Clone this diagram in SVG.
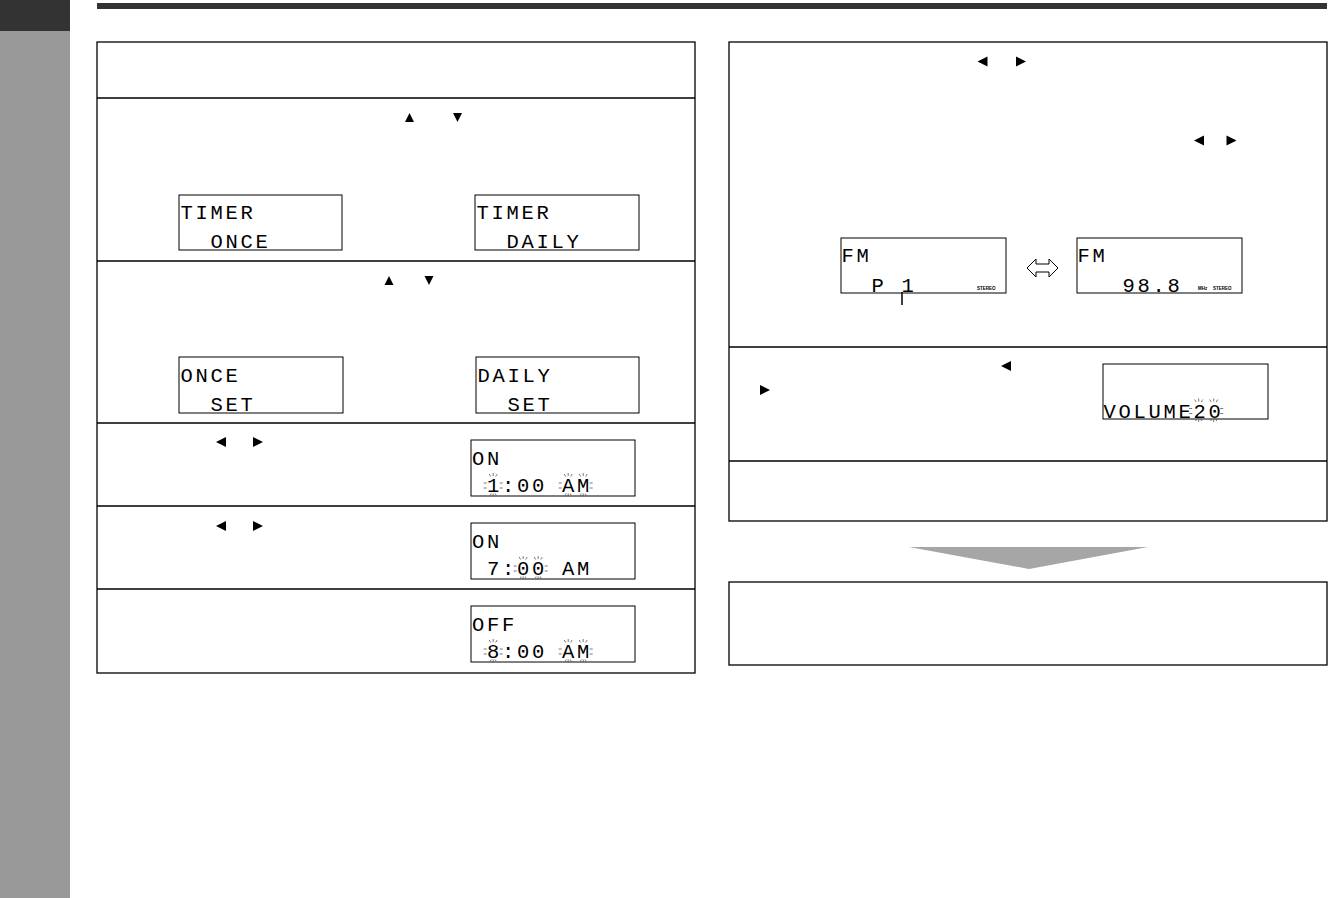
<svg xmlns="http://www.w3.org/2000/svg" xmlns:xlink="http://www.w3.org/1999/xlink" width="1328" height="898" viewBox="0 0 1328 898">
<style>
.frame{fill:none;stroke:#000;stroke-width:1.3}
.div{stroke:#000;stroke-width:1.3}
.lcd{fill:#fff;stroke:#000;stroke-width:1}
.lt{font-family:"Liberation Mono","DejaVu Sans Mono",monospace;font-size:20.5px;letter-spacing:2.7px;fill:#000}
.tri{fill:#000}
.sp{stroke:#555;stroke-width:0.8;fill:none}
.tiny{font-family:"Liberation Sans",Arial,sans-serif;font-size:4.5px;font-weight:bold;fill:#000}
</style>
<defs>
<g id="rays" class="sp">
<path d="M-4,-18 L-2.5,-15.5 M0,-19 L0,-16 M4,-18 L2.5,-15.5 M-3,3.5 L-2,1.5 M0,4.5 L0,1.5 M3,3.5 L2,1.5"/>
</g>
<g id="dl" class="sp"><path d="M-9.5,-9 L-6.5,-9 M-9.5,-4 L-6.5,-4"/></g>
<g id="dr" class="sp"><path d="M6.5,-9 L9.5,-9 M6.5,-4 L9.5,-4"/></g>
<path id="up" d="M-4.5,4.5 L0,-4.5 L4.5,4.5 Z"/>
<path id="down" d="M-4.5,-4.5 L4.5,-4.5 L0,4.5 Z"/>
<path id="left" d="M-5,0 L5,-5 L5,5 Z"/>
<path id="right" d="M5,0 L-5,-5 L-5,5 Z"/>
</defs>
<rect width="1328" height="898" fill="#fff"/>
<g id="sidebar">
<rect x="0" y="0" width="70" height="31" fill="#333"/>
<rect x="0" y="31" width="70" height="867" fill="#999"/>
</g>
<g id="header-bar">
<rect x="97" y="3" width="1230" height="6" fill="#333"/>
</g>
<g id="left-panel">
<rect class="frame" x="97" y="42" width="598" height="631"/>
<line class="div" x1="97" y1="98" x2="695" y2="98"/>
<line class="div" x1="97" y1="261" x2="695" y2="261"/>
<line class="div" x1="97" y1="423" x2="695" y2="423"/>
<line class="div" x1="97" y1="506" x2="695" y2="506"/>
<line class="div" x1="97" y1="589" x2="695" y2="589"/>
</g>
<g id="step-timer-mode">
<use href="#up" class="tri" x="409.5" y="117.5"/>
<use href="#down" class="tri" x="457.5" y="117.5"/>
<g id="lcd-timer-once">
<rect class="lcd" x="179" y="195" width="163" height="55"/>
<text class="lt" x="180.5" y="219">TIMER</text>
<text class="lt" x="180.5" y="248" xml:space="preserve">  ONCE</text>
</g>
<g id="lcd-timer-daily">
<rect class="lcd" x="475" y="195" width="164" height="55"/>
<text class="lt" x="476.5" y="219">TIMER</text>
<text class="lt" x="476.5" y="248" xml:space="preserve">  DAILY</text>
</g>
</g>
<g id="step-set">
<use href="#up" class="tri" x="389" y="280.5"/>
<use href="#down" class="tri" x="429" y="280.5"/>
<g id="lcd-once-set">
<rect class="lcd" x="179" y="357" width="164" height="56"/>
<text class="lt" x="180.5" y="382">ONCE</text>
<text class="lt" x="180.5" y="411" xml:space="preserve">  SET</text>
</g>
<g id="lcd-daily-set">
<rect class="lcd" x="476" y="357" width="163" height="56"/>
<text class="lt" x="477.5" y="382">DAILY</text>
<text class="lt" x="477.5" y="411" xml:space="preserve">  SET</text>
</g>
</g>
<g id="step-on-hour">
<use href="#left" class="tri" x="221" y="442"/>
<use href="#right" class="tri" x="258" y="442"/>
<g id="lcd-on-1">
<rect class="lcd" x="471" y="440" width="164" height="56"/>
<text class="lt" x="472" y="465">ON</text>
<text class="lt" x="472" y="492" xml:space="preserve"> 1:00 AM</text>
<use href="#rays" x="493.2" y="492"/><use href="#dl" x="493.2" y="492"/><use href="#dr" x="493.2" y="492"/>
<use href="#rays" x="568.2" y="492"/><use href="#rays" x="583.2" y="492"/><use href="#dl" x="568.2" y="492"/><use href="#dr" x="583.2" y="492"/>
</g>
</g>
<g id="step-on-minute">
<use href="#left" class="tri" x="221" y="526"/>
<use href="#right" class="tri" x="258" y="526"/>
<g id="lcd-on-7">
<rect class="lcd" x="471" y="523" width="164" height="56"/>
<text class="lt" x="472" y="548">ON</text>
<text class="lt" x="472" y="575" xml:space="preserve"> 7:00 AM</text>
<use href="#rays" x="523.2" y="575"/><use href="#rays" x="538.2" y="575"/><use href="#dl" x="523.2" y="575"/><use href="#dr" x="538.2" y="575"/>
</g>
</g>
<g id="step-off">
<g id="lcd-off-8">
<rect class="lcd" x="471" y="606" width="164" height="56"/>
<text class="lt" x="472" y="631">OFF</text>
<text class="lt" x="472" y="658" xml:space="preserve"> 8:00 AM</text>
<use href="#rays" x="493.2" y="658"/><use href="#dl" x="493.2" y="658"/><use href="#dr" x="493.2" y="658"/>
<use href="#rays" x="568.2" y="658"/><use href="#rays" x="583.2" y="658"/><use href="#dl" x="568.2" y="658"/><use href="#dr" x="583.2" y="658"/>
</g>
</g>
<g id="right-panel">
<rect class="frame" x="729" y="42" width="598" height="479"/>
<line class="div" x1="729" y1="347" x2="1327" y2="347"/>
<line class="div" x1="729" y1="461" x2="1327" y2="461"/>
</g>
<g id="step-source">
<use href="#left" class="tri" x="982.5" y="61.5"/>
<use href="#right" class="tri" x="1021" y="61.5"/>
<use href="#left" class="tri" x="1199" y="140.5"/>
<use href="#right" class="tri" x="1231.5" y="140.5"/>
<g id="lcd-fm-p1">
<rect class="lcd" x="841" y="238" width="165" height="55"/>
<text class="lt" x="841.5" y="262">FM</text>
<text class="lt" x="841.5" y="291.5" xml:space="preserve">  P 1</text>
<text class="tiny" x="977" y="290">STEREO</text>
</g>
<g id="lcd-fm-freq">
<rect class="lcd" x="1077" y="238" width="165" height="55"/>
<text class="lt" x="1077.5" y="262">FM</text>
<text class="lt" x="1077.5" y="291.5" xml:space="preserve">   98.8</text>
<text class="tiny" x="1198" y="290">MHz</text>
<text class="tiny" x="1213" y="290">STEREO</text>
</g>
</g>
<g id="step-volume">
<use href="#left" class="tri" x="1006" y="366"/>
<use href="#right" class="tri" x="765" y="390"/>
<g id="lcd-volume">
<rect class="lcd" x="1103" y="364" width="165" height="55"/>
<text class="lt" x="1103.5" y="417.5">VOLUME20</text>
<use href="#rays" x="1198.7" y="417.5"/><use href="#rays" x="1213.7" y="417.5"/><use href="#dl" x="1198.7" y="417.5"/><use href="#dr" x="1213.7" y="417.5"/>
</g>
</g>
<g id="result-box">
<rect class="frame" x="729" y="582" width="598" height="83"/>
</g>
<g id="connectors">
<polygon points="909,547 1148,547 1029,569" fill="#a6a6a6"/>
<polygon points="1027,268 1036,259 1036,264 1049,264 1049,259 1058,268 1049,277 1049,272 1036,272 1036,277" fill="#fff" stroke="#000" stroke-width="1"/>
<line x1="902" y1="292" x2="902" y2="305" stroke="#000" stroke-width="1.5"/>
</g>
</svg>
